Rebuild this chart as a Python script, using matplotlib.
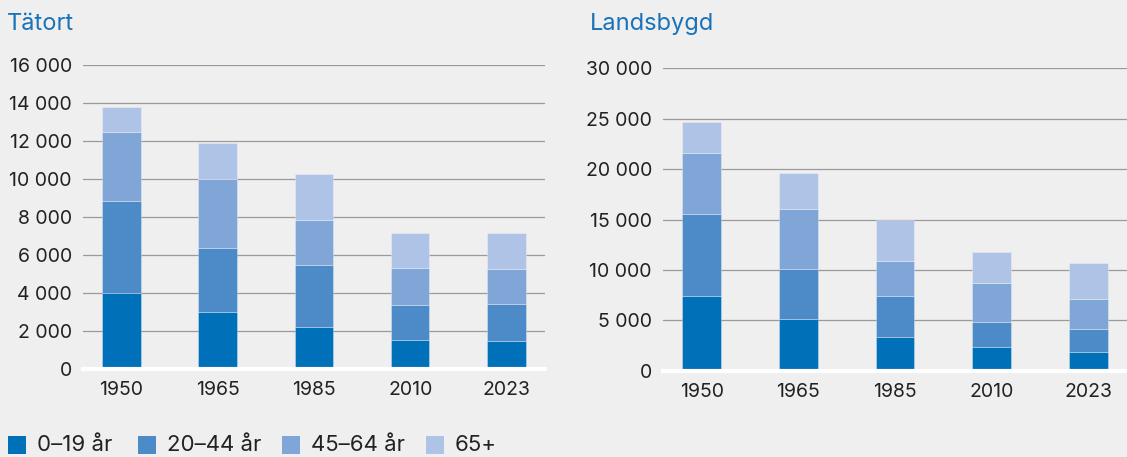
import matplotlib.pyplot as plt
import numpy as np
from matplotlib.patches import Rectangle

plt.rcParams['font.family'] = ['Inter', 'DejaVu Sans']

years = ['1950', '1965', '1985', '2010', '2023']
groups = ['0–19 år', '20–44 år', '45–64 år', '65+']
colors = ['#0070b8', '#4c8ac8', '#80a6d8', '#afc3e6']

# Tätort, per age group
tatort_0_19 = [4000, 3000, 2190, 1520, 1450]
tatort_20_44 = [4830, 3380, 3270, 1840, 2000]
tatort_45_64 = [3660, 3640, 2400, 1960, 1820]
tatort_65 = [1290, 1870, 2420, 1820, 1870]

# Landsbygd, per age group
lands_0_19 = [7440, 5090, 3310, 2310, 1880]
lands_20_44 = [8100, 5030, 4130, 2480, 2290]
lands_45_64 = [6050, 5920, 3440, 3940, 2910]
lands_65 = [3080, 3540, 4070, 3040, 3570]

W, H = 1127, 457
bg = '#eeefee'
fig = plt.figure(figsize=(W / 100, H / 100), dpi=100, facecolor=bg)
ax1 = fig.add_axes([0.0736, 0.1926, 0.41, 0.6644])
ax2 = fig.add_axes([0.5883, 0.1888, 0.4117, 0.6617])


def draw(ax, series, ymax, step, title, title_x):
    ax.set_facecolor(bg)
    x = np.arange(len(years))
    bottom = np.zeros(len(years))
    for vals, c in zip(series, colors):
        ax.bar(x, vals, 0.4, bottom=bottom, color=c, edgecolor=(1, 1, 1, 0.35),
               linewidth=0.6, zorder=3)
        bottom += np.array(vals)
    ax.set_xlim(-0.4, 4.4)
    ax.set_ylim(0, ymax)
    ticks = np.arange(0, ymax + 1, step)
    ax.set_yticks(ticks)
    ax.set_yticklabels([f'{t:,}'.replace(',', ' ') for t in ticks])
    ax.set_xticks(x)
    ax.set_xticklabels(years)
    for t in ticks[1:]:
        ax.axhline(t, color='#9a9a9a', lw=0.9, zorder=1)
    ax.axhline(0, color='white', lw=3, zorder=4, clip_on=False)
    for s in ax.spines.values():
        s.set_visible(False)
    ax.tick_params(axis='both', length=0, labelsize=14, colors='#222222')
    ax.tick_params(axis='y', pad=8)
    ax.tick_params(axis='x', pad=9)
    fig.text(title_x, 0.948, title, color='#1a72b8', fontsize=17, va='center')


draw(ax1, [tatort_0_19, tatort_20_44, tatort_45_64, tatort_65], 16000, 2000,
     'Tätort', 0.006)
draw(ax2, [lands_0_19, lands_20_44, lands_45_64, lands_65], 30000, 5000,
     'Landsbygd', 0.523)

# legend, laid out by hand along the bottom edge
sq_x = [8, 138, 282, 426]
for px, c, lab in zip(sq_x, colors, groups):
    fig.add_artist(Rectangle((px / W, (H - 454) / H), 18 / W, 18 / H,
                             transform=fig.transFigure, facecolor=c, edgecolor='none'))
    fig.text((px + 29) / W, (H - 445) / H, lab, fontsize=16, color='#222222',
             va='center', ha='left')

fig.savefig('out.png', dpi=100, facecolor=bg)
